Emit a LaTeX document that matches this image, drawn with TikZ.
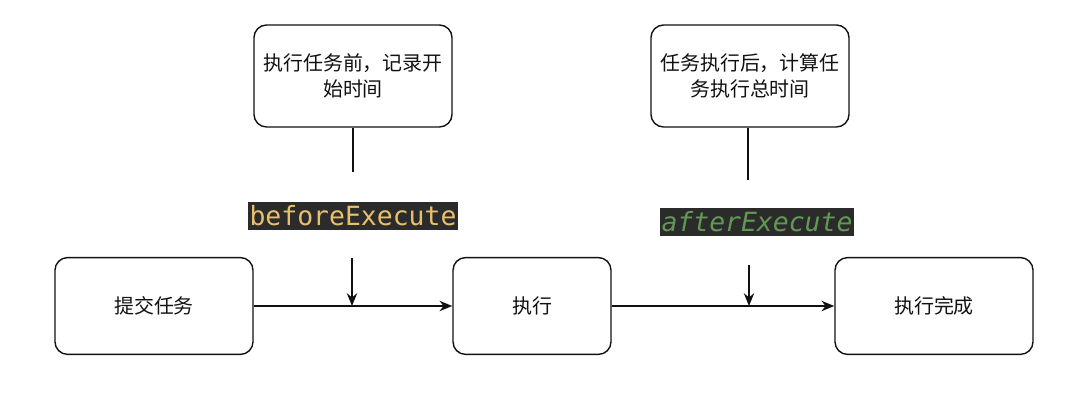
\documentclass[tikz,border=0pt]{standalone}
\usepackage{fontspec}
\setmonofont{DejaVu Sans Mono}
\newfontfamily\cjk{Noto Sans CJK SC}
\usepackage{tikz}
\usetikzlibrary{positioning,arrows.meta,calc}
\definecolor{ink}{HTML}{111111}
\definecolor{codeBg}{HTML}{2B2B2B}
\definecolor{codeOrange}{HTML}{E8BF6A}
\definecolor{codeGreen}{HTML}{629755}
\tikzset{
  stepbox/.style={draw=ink, line width=1pt, rounded corners=9pt, fill=white,
    minimum width=4.95cm, minimum height=2.42cm, font=\cjk\fontsize{14.2}{18}\selectfont, text=ink, align=center},
  notebox/.style={stepbox, minimum height=2.55cm},
  hook/.style={font=\ttfamily\fontsize{18.8}{20}\selectfont, fill=codeBg, inner xsep=1pt, inner ysep=3pt},
  flow/.style={-{Stealth[length=3.2mm, width=2.6mm]}, draw=ink, line width=1pt},
  wire/.style={draw=ink, line width=1pt},
}
\begin{document}
\begin{tikzpicture}[x=0.025cm, y=-0.025cm]
\useasboundingbox (0,0) rectangle (1080,405);
% main flow
\node[stepbox] (submit) at (154,306) {提交任务};
\node[stepbox, minimum width=3.95cm] (run) at (532,306) {执行};
\node[stepbox] (done) at (934,306) {执行完成};
% notes
\node[notebox] (noteA) at (353,76) {执行任务前，记录开\\始时间};
\node[notebox] (noteB) at (750,76) {任务执行后，计算任\\务执行总时间};
% hook labels
\node[hook, text=codeOrange] (before) at (353,216) {beforeExecute};
\node[hook, text=codeGreen] (after) at (757,222) {\itshape afterExecute};
\coordinate (aEnd) at (353,172);
\coordinate (aStart) at (352,258);
\coordinate (aHit) at (352,306);
\coordinate (bEnd) at (748,180);
\coordinate (bStart) at (749,265);
\coordinate (bHit) at (749,306);
\draw[wire] (noteA.south) -- (aEnd);
\draw[wire] (noteB.south -| bEnd) -- (bEnd);
\draw[flow] (aStart) -- (aHit);
\draw[flow] (bStart) -- (bHit);
\draw[flow] (submit.east) -- (run.west);
\draw[flow] (run.east) -- (done.west);
\end{tikzpicture}
\end{document}
